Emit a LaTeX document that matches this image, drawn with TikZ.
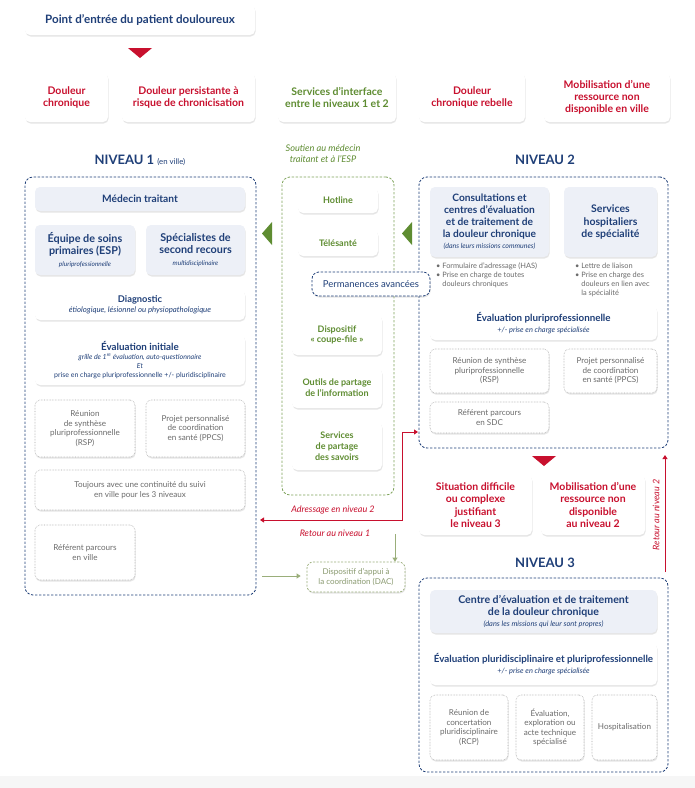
\documentclass[tikz,border=0pt]{standalone}
\usepackage{fontspec}
\setmainfont{Lato}
\usetikzlibrary{shadows,arrows.meta}
\definecolor{navy}{HTML}{1F3F78}
\definecolor{rd}{HTML}{C8102E}
\definecolor{grn}{HTML}{5E8C31}
\definecolor{grnl}{HTML}{9AAE7A}
\definecolor{grnt}{HTML}{8A9A70}
\definecolor{cardblue}{HTML}{EDF0F7}
\definecolor{gtext}{HTML}{6B6B6B}
\newcommand\bx[7]{\node[#2, minimum width={(#5-(#3))*1pt}, minimum height={(#6-(#4))*1pt}] (#1) at ({(#3+#5)/2},{(#4+#6)/2}) {#7};}
\newcommand\fsz[2]{\fontsize{#1}{#2}\selectfont}
\tikzset{
 card/.style={rounded corners=5pt, fill=white, drop shadow={opacity=0.2, shadow xshift=0.6pt, shadow yshift=-1.5pt}, align=center, inner sep=1pt},
 bcard/.style={card, fill=cardblue},
 dcard/.style={card, draw=gray!70, densely dotted, line width=0.55pt, text=gtext, font=\fsz{8.1}{9.5}},
 gcard/.style={card, text=grn, font=\bfseries\fsz{9}{10.8}},
 lvl/.style={draw=navy, dash pattern=on 2.4pt off 1.6pt, line width=0.8pt, rounded corners=8pt},
 glvl/.style={draw=grn!80, dash pattern=on 2.4pt off 1.6pt, line width=0.8pt, rounded corners=8pt},
 rowr/.style={card, text=rd, font=\bfseries\fsz{10.5}{12.3}},
 head/.style={text=navy, font=\bfseries\fsz{13}{15}},
 redl/.style={draw=rd, line width=0.9pt},
 grl/.style={draw=grnl, line width=0.8pt},
 lab/.style={text=rd, font=\itshape\fsz{9}{10}},
}
\begin{document}
\begin{tikzpicture}[x=1pt,y=-1pt]
\useasboundingbox (0,0) rectangle (695,788);
\fill[white] (0,0) rectangle (695,788);
\fill[gray!7] (0,776) rectangle (695,788);

% top
\bx{entry}{card, text=navy, font=\bfseries\fsz{11.6}{13}}{25}{5}{255}{35}{Point d’entrée du patient douloureux}
\fill[rd] (128,48) -- (152,48) -- (140,58) -- cycle;

% row
\bx{r1}{rowr}{25}{73}{108}{122}{Douleur\\chronique}
\bx{r2}{rowr}{122}{73}{255}{122}{Douleur persistante à\\risque de chronicisation}
\bx{r3}{rowr, text=grn}{278}{73}{396}{122}{Services d’interface\\entre le niveaux 1 et 2}
\bx{r4}{rowr}{419}{73}{525}{122}{Douleur\\chronique rebelle}
\bx{r5}{rowr}{544}{73}{670}{122}{Mobilisation d’une\\ressource non\\disponible en ville}

% headings
\node[head] (n1) at (140,160) {NIVEAU 1 {\mdseries\fsz{7.8}{9}(en ville)}};
\node[head] (n2) at (545,160) {NIVEAU 2};
\node[head] (n3) at (545,563) {NIVEAU 3};
\node[text=grn, font=\itshape\fsz{9.2}{11}, align=center] (sout) at (323,154) {Soutien au médecin\\traitant et à l’ESP};

% level boxes
\bx{L1}{lvl}{25}{177}{256}{595}{}
\bx{G}{glvl}{282}{177}{394}{495}{}
\bx{L2}{lvl}{419}{177}{668}{448}{}
\bx{L3}{lvl}{419}{578}{668}{772}{}

% green triangles
\fill[grn] (272,222) -- (272,245) -- (262,233.5) -- cycle;
\fill[grn] (412,222) -- (412,245) -- (402,233.5) -- cycle;

% level 1
\bx{mt}{bcard, text=navy, font=\bfseries\fsz{10.2}{11}}{35}{187}{245}{211}{Médecin traitant}
\bx{esp}{bcard, text=navy, font=\bfseries\fsz{10.8}{12.3}}{35}{225}{135}{275}{Équipe de soins\\primaires (ESP)\\[-1pt]{\mdseries\itshape\fsz{6.5}{8}pluriprofessionnelle}}
\bx{spe}{bcard, text=navy, font=\bfseries\fsz{10.8}{12.3}}{146}{225}{245}{275}{Spécialistes de\\second recours\\[-1pt]{\mdseries\itshape\fsz{6.5}{8}multidisciplinaire}}
\bx{diag}{card, text=navy, font=\bfseries\fsz{9.3}{11}}{35}{290}{245}{320}{Diagnostic\\[-1pt]{\mdseries\itshape\fsz{7.8}{9}étiologique, lésionnel ou physiopathologique}}
\bx{evi}{card, text=navy, font=\fsz{7}{8.8}}{35}{335}{245}{385}{{\bfseries\fsz{9.8}{11.5}Évaluation initiale}\\{\itshape grille de 1\textsuperscript{re} évaluation, auto-questionnaire}\\{\itshape Et}\\prise en charge pluriprofessionnelle +/- pluridisciplinaire}
\bx{rsp1}{dcard}{35}{400}{135}{457}{Réunion\\de synthèse\\pluriprofessionnelle\\(RSP)}
\bx{ppcs1}{dcard}{146}{400}{245}{457}{Projet personnalisé\\de coordination\\en santé (PPCS)}
\bx{tj}{dcard}{35}{470}{245}{510}{Toujours avec une continuité du suivi\\en ville pour les 3 niveaux}
\bx{ref1}{dcard}{35}{525}{135}{580}{Référent parcours\\en ville}

% green column
\bx{hot}{gcard}{298}{188}{378}{213}{Hotline}
\bx{tel}{gcard}{298}{230}{378}{256}{Télésanté}
\bx{cf}{gcard}{292}{315}{382}{355}{Dispositif\\« coupe-file »}
\bx{out}{gcard}{292}{368}{382}{408}{Outils de partage\\de l’information}
\bx{sav}{gcard}{292}{422}{382}{470}{Services\\de partage\\des savoirs}
\bx{perm}{card, draw=navy, dash pattern=on 2.4pt off 1.6pt, line width=0.8pt, rounded corners=7pt, text=navy, font=\fsz{9.5}{11}}{312}{272}{430}{296}{Permanences avancées}

% level 2
\bx{cons}{bcard, text=navy, font=\bfseries\fsz{10.2}{12}}{430}{187}{549}{257}{Consultations et\\centres d’évaluation\\et de traitement de\\la douleur chronique\\[-1pt]{\mdseries\itshape\fsz{7}{8}(dans leurs missions communes)}}
\bx{hosp}{bcard, text=navy, font=\bfseries\fsz{10.5}{12.3}}{564}{187}{657}{257}{Services\\hospitaliers\\de spécialité}
\node[anchor=north west, align=left, text=gtext, font=\fsz{7.4}{9}, inner sep=0pt] (bl) at (436,263) {• Formulaire d’adressage (HAS)\\• Prise en charge de toutes\\\hphantom{• }douleurs chroniques};
\node[anchor=north west, align=left, text=gtext, font=\fsz{7.4}{9}, inner sep=0pt] (br) at (575,263) {• Lettre de liaison\\• Prise en charge des\\\hphantom{• }douleurs en lien avec\\\hphantom{• }la spécialité};
\bx{evp}{card, text=navy, font=\bfseries\fsz{9.8}{11.3}}{430}{306}{657}{340}{Évaluation pluriprofessionnelle\\[-1pt]{\mdseries\itshape\fsz{7.4}{8.5}+/- prise en charge spécialisée}}
\bx{rsp2}{dcard}{430}{349}{549}{393}{Réunion de synthèse\\pluriprofessionnelle\\(RSP)}
\bx{ppcs2}{dcard}{564}{349}{657}{393}{Projet personnalisé\\de coordination\\en santé (PPCS)}
\bx{ref2}{dcard}{430}{402}{549}{433}{Référent parcours\\en SDC}

\fill[rd] (532,456) -- (556,456) -- (544,466) -- cycle;
\bx{sit}{rowr, font=\bfseries\fsz{10.5}{12.5}}{419}{475}{532}{535}{Situation difficile\\ou complexe\\justifiant\\le niveau 3}
\bx{mob2}{rowr, font=\bfseries\fsz{10.5}{12.5}}{541}{475}{645}{535}{Mobilisation d’une\\ressource non\\disponible\\au niveau 2}

% level 3
\bx{cetd}{bcard, text=navy, font=\bfseries\fsz{10.6}{12.3}}{430}{590}{657}{633}{Centre d’évaluation et de traitement\\de la douleur chronique\\[-1pt]{\mdseries\itshape\fsz{7.4}{8.5}(dans les missions qui leur sont propres)}}
\bx{evpp}{card, text=navy, font=\bfseries\fsz{9.8}{11.8}}{430}{643}{657}{685}{Évaluation pluridisciplinaire et pluriprofessionnelle\\[-1pt]{\mdseries\itshape\fsz{7.4}{8.5}+/- prise en charge spécialisée}}
\bx{rcp}{dcard}{430}{695}{508}{760}{Réunion de\\concertation\\pluridisciplinaire\\(RCP)}
\bx{expl}{dcard}{516}{695}{584}{760}{Évaluation,\\exploration ou\\acte technique\\spécialisé}
\bx{hos3}{dcard}{592}{695}{657}{760}{Hospitalisation}

% DAC
\bx{dac}{card, draw=grnl, dash pattern=on 2pt off 1.5pt, line width=0.7pt, rounded corners=6pt, text=grnt, font=\fsz{8}{9.5}}{307}{562}{405}{592}{Dispositif d’appui à\\la coordination (DAC)}

% connectors
\coordinate (rj) at (402,520);
\coordinate (rt) at (418,432);
\coordinate (rl) at (260,520);
\draw[redl, {Triangle[length=4pt,width=5pt]}-{Triangle[length=4pt,width=5pt]}] (rt) -| (rj) -- (rl);
\node[lab] (adr) at (333,510) {Adressage en niveau 2};
\node[lab] (ret1) at (335,533) {Retour au niveau 1};

\coordinate (ga) at (395,534);
\draw[grl, -{Triangle[length=4pt,width=5pt]}] (ga) -- (ga |- dac.north);
\coordinate (gl) at (262,576);
\draw[grl, -{Triangle[length=4pt,width=5pt]}, shorten >=6pt] (gl) -- (gl -| dac.west);

\coordinate (rb) at (665,572);
\coordinate (rtop) at (665,455);
\draw[redl, -{Triangle[length=4pt,width=5pt]}] (rb) -- (rtop);
\node[lab, rotate=90] (ret2) at (656,515) {Retour au niveau 2};
\end{tikzpicture}
\end{document}
